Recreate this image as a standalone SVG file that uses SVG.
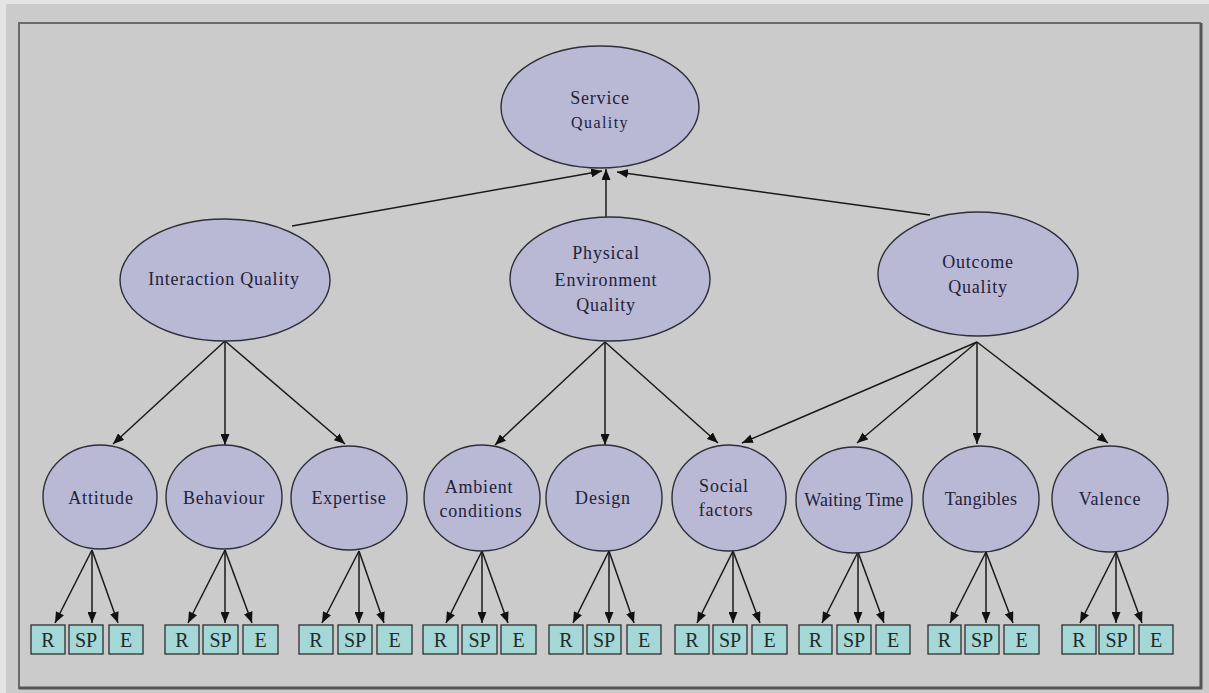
<svg xmlns="http://www.w3.org/2000/svg" width="1209" height="693" viewBox="0 0 1209 693">
  <style>
    .lat { fill: #b9b9d5; stroke: #2e2e3a; stroke-width: 1.4; }
    .ind { fill: #a4d7d5; stroke: #2e2e2e; stroke-width: 1.3; }
    .lbl { font-size: 18px; fill: #22223a; text-anchor: middle; letter-spacing: 0.8px; }
    .sm { font-size: 16px; letter-spacing: 1.4px; }
    .ilbl { font-size: 20px; fill: #1f2a2a; text-anchor: middle; }
    .edge { stroke: #1a1a1a; stroke-width: 1.5; fill: none; marker-end: url(#ah); }
  </style>
  <defs>
    <marker id="ah" viewBox="0 0 11 9" refX="11" refY="4.5" markerWidth="11" markerHeight="9" markerUnits="userSpaceOnUse" orient="auto">
      <path d="M0,0 L11,4.5 L0,9 z" fill="#111"/>
    </marker>
  </defs>

  <!-- page background and frame -->
  <rect x="0" y="0" width="1209" height="693" fill="#e4e4e4"/>
  <rect x="6" y="4" width="1203" height="689" fill="#cbcbcb"/>
  <path d="M19,689 L19,23 L1201,23" fill="none" stroke="#6a6a6a" stroke-width="2"/>
  <path d="M1201,23 L1201,688 L19,688" fill="none" stroke="#555" stroke-width="3"/>

  <!-- connectors -->
  <g id="connectors">
    <line class="edge" x1="292" y1="226" x2="602" y2="171"/>
    <line class="edge" x1="606" y1="217" x2="606" y2="169"/>
    <line class="edge" x1="930" y1="215" x2="617" y2="172"/>

    <line class="edge" x1="225" y1="341" x2="113" y2="444"/>
    <line class="edge" x1="225" y1="341" x2="225" y2="445"/>
    <line class="edge" x1="225" y1="341" x2="345" y2="444"/>

    <line class="edge" x1="605" y1="342" x2="495" y2="445"/>
    <line class="edge" x1="605" y1="342" x2="605" y2="445"/>
    <line class="edge" x1="605" y1="342" x2="718" y2="443"/>

    <line class="edge" x1="977" y1="342" x2="742" y2="443"/>
    <line class="edge" x1="977" y1="342" x2="857" y2="443"/>
    <line class="edge" x1="977" y1="342" x2="977" y2="444"/>
    <line class="edge" x1="977" y1="342" x2="1108" y2="443"/>

    <line class="edge" x1="92" y1="550" x2="55" y2="623"/>
    <line class="edge" x1="92" y1="550" x2="92" y2="623"/>
    <line class="edge" x1="92" y1="550" x2="118" y2="623"/>

    <line class="edge" x1="225" y1="550" x2="188" y2="623"/>
    <line class="edge" x1="225" y1="550" x2="225" y2="623"/>
    <line class="edge" x1="225" y1="550" x2="252" y2="623"/>

    <line class="edge" x1="359" y1="551" x2="322" y2="623"/>
    <line class="edge" x1="359" y1="551" x2="359" y2="623"/>
    <line class="edge" x1="359" y1="551" x2="384" y2="623"/>

    <line class="edge" x1="482" y1="551" x2="446" y2="623"/>
    <line class="edge" x1="482" y1="551" x2="482" y2="623"/>
    <line class="edge" x1="482" y1="551" x2="508" y2="623"/>

    <line class="edge" x1="609" y1="551" x2="573" y2="623"/>
    <line class="edge" x1="609" y1="551" x2="609" y2="623"/>
    <line class="edge" x1="609" y1="551" x2="634" y2="623"/>

    <line class="edge" x1="733" y1="551" x2="697" y2="623"/>
    <line class="edge" x1="733" y1="551" x2="733" y2="623"/>
    <line class="edge" x1="733" y1="551" x2="760" y2="623"/>

    <line class="edge" x1="858" y1="552" x2="822" y2="623"/>
    <line class="edge" x1="858" y1="552" x2="858" y2="623"/>
    <line class="edge" x1="858" y1="552" x2="884" y2="623"/>

    <line class="edge" x1="986" y1="552" x2="950" y2="623"/>
    <line class="edge" x1="986" y1="552" x2="986" y2="623"/>
    <line class="edge" x1="986" y1="552" x2="1013" y2="623"/>

    <line class="edge" x1="1116" y1="552" x2="1080" y2="623"/>
    <line class="edge" x1="1116" y1="552" x2="1116" y2="623"/>
    <line class="edge" x1="1116" y1="552" x2="1142" y2="623"/>
  </g>

  <g font-family="Liberation Serif, serif">
  <!-- top-level construct -->
  <g id="service-quality">
    <ellipse class="lat" cx="600" cy="107" rx="99" ry="61"/>
    <text class="lbl" x="600" y="104">Service</text>
    <text class="lbl sm" x="600" y="128">Quality</text>
  </g>

  <!-- primary dimensions -->
  <g id="interaction-quality">
    <ellipse class="lat" cx="225" cy="280" rx="105" ry="61"/>
    <text class="lbl" x="224" y="285">Interaction Quality</text>
  </g>
  <g id="physical-environment-quality">
    <ellipse class="lat" cx="610" cy="279" rx="100" ry="62"/>
    <text class="lbl" x="606" y="259">Physical</text>
    <text class="lbl" x="606" y="286">Environment</text>
    <text class="lbl" x="606" y="311">Quality</text>
  </g>
  <g id="outcome-quality">
    <ellipse class="lat" cx="978" cy="274" rx="100" ry="62"/>
    <text class="lbl" x="978" y="268">Outcome</text>
    <text class="lbl" x="978" y="293">Quality</text>
  </g>

  <!-- sub-dimensions -->
  <g id="attitude">
    <ellipse class="lat" cx="100" cy="497" rx="57" ry="52"/>
    <text class="lbl" x="101" y="504">Attitude</text>
  </g>
  <g id="behaviour">
    <ellipse class="lat" cx="224" cy="497" rx="58" ry="52"/>
    <text class="lbl" x="224" y="504">Behaviour</text>
  </g>
  <g id="expertise">
    <ellipse class="lat" cx="349" cy="498" rx="58" ry="52"/>
    <text class="lbl" x="349" y="504">Expertise</text>
  </g>
  <g id="ambient-conditions">
    <ellipse class="lat" cx="482" cy="498" rx="58" ry="53"/>
    <text class="lbl" x="479" y="493">Ambient</text>
    <text class="lbl" x="481" y="517">conditions</text>
  </g>
  <g id="design">
    <ellipse class="lat" cx="604" cy="498" rx="58" ry="53"/>
    <text class="lbl" x="603" y="504">Design</text>
  </g>
  <g id="social-factors">
    <ellipse class="lat" cx="729" cy="498" rx="57" ry="53"/>
    <text class="lbl" x="724" y="492">Social</text>
    <text class="lbl" x="726" y="516">factors</text>
  </g>
  <g id="waiting-time">
    <ellipse class="lat" cx="854" cy="500" rx="58" ry="53"/>
    <text class="lbl" x="854" y="506" style="letter-spacing:0.1px">Waiting Time</text>
  </g>
  <g id="tangibles">
    <ellipse class="lat" cx="981" cy="499" rx="58" ry="53"/>
    <text class="lbl" x="981" y="505" style="letter-spacing:0.3px">Tangibles</text>
  </g>
  <g id="valence">
    <ellipse class="lat" cx="1110" cy="499" rx="58" ry="53"/>
    <text class="lbl" x="1110" y="505">Valence</text>
  </g>

  <!-- indicator boxes -->
  <g id="attitude-r"><rect class="ind" x="31" y="625" width="34" height="29"/><text class="ilbl" x="48" y="647">R</text></g>
  <g id="attitude-sp"><rect class="ind" x="69" y="625" width="34" height="29"/><text class="ilbl" x="86" y="647">SP</text></g>
  <g id="attitude-e"><rect class="ind" x="109" y="625" width="34" height="29"/><text class="ilbl" x="126" y="647">E</text></g>

  <g id="behaviour-r"><rect class="ind" x="165" y="625" width="34" height="29"/><text class="ilbl" x="182" y="647">R</text></g>
  <g id="behaviour-sp"><rect class="ind" x="203" y="625" width="35" height="29"/><text class="ilbl" x="220.5" y="647">SP</text></g>
  <g id="behaviour-e"><rect class="ind" x="243" y="625" width="35" height="29"/><text class="ilbl" x="260.5" y="647">E</text></g>

  <g id="expertise-r"><rect class="ind" x="299" y="625" width="34" height="29"/><text class="ilbl" x="316" y="647">R</text></g>
  <g id="expertise-sp"><rect class="ind" x="338" y="625" width="34" height="29"/><text class="ilbl" x="355" y="647">SP</text></g>
  <g id="expertise-e"><rect class="ind" x="377" y="625" width="35" height="29"/><text class="ilbl" x="394.5" y="647">E</text></g>

  <g id="ambient-r"><rect class="ind" x="423" y="625" width="35" height="29"/><text class="ilbl" x="440.5" y="647">R</text></g>
  <g id="ambient-sp"><rect class="ind" x="462" y="625" width="35" height="29"/><text class="ilbl" x="479.5" y="647">SP</text></g>
  <g id="ambient-e"><rect class="ind" x="501" y="625" width="35" height="29"/><text class="ilbl" x="518.5" y="647">E</text></g>

  <g id="design-r"><rect class="ind" x="549" y="625" width="34" height="29"/><text class="ilbl" x="566" y="647">R</text></g>
  <g id="design-sp"><rect class="ind" x="587" y="625" width="34" height="29"/><text class="ilbl" x="604" y="647">SP</text></g>
  <g id="design-e"><rect class="ind" x="627" y="625" width="34" height="29"/><text class="ilbl" x="644" y="647">E</text></g>

  <g id="social-r"><rect class="ind" x="675" y="625" width="34" height="29"/><text class="ilbl" x="692" y="647">R</text></g>
  <g id="social-sp"><rect class="ind" x="713" y="625" width="34" height="29"/><text class="ilbl" x="730" y="647">SP</text></g>
  <g id="social-e"><rect class="ind" x="752" y="625" width="35" height="29"/><text class="ilbl" x="769.5" y="647">E</text></g>

  <g id="waiting-r"><rect class="ind" x="799" y="625" width="33" height="29"/><text class="ilbl" x="815.5" y="647">R</text></g>
  <g id="waiting-sp"><rect class="ind" x="837" y="625" width="34" height="29"/><text class="ilbl" x="854" y="647">SP</text></g>
  <g id="waiting-e"><rect class="ind" x="876" y="625" width="34" height="29"/><text class="ilbl" x="893" y="647">E</text></g>

  <g id="tangibles-r"><rect class="ind" x="928" y="625" width="33" height="29"/><text class="ilbl" x="944.5" y="647">R</text></g>
  <g id="tangibles-sp"><rect class="ind" x="965" y="625" width="34" height="29"/><text class="ilbl" x="982" y="647">SP</text></g>
  <g id="tangibles-e"><rect class="ind" x="1004" y="625" width="35" height="29"/><text class="ilbl" x="1021.5" y="647">E</text></g>

  <g id="valence-r"><rect class="ind" x="1062" y="625" width="34" height="29"/><text class="ilbl" x="1079" y="647">R</text></g>
  <g id="valence-sp"><rect class="ind" x="1099" y="625" width="35" height="29"/><text class="ilbl" x="1116.5" y="647">SP</text></g>
  <g id="valence-e"><rect class="ind" x="1139" y="625" width="34" height="29"/><text class="ilbl" x="1156" y="647">E</text></g>
  </g>
</svg>
